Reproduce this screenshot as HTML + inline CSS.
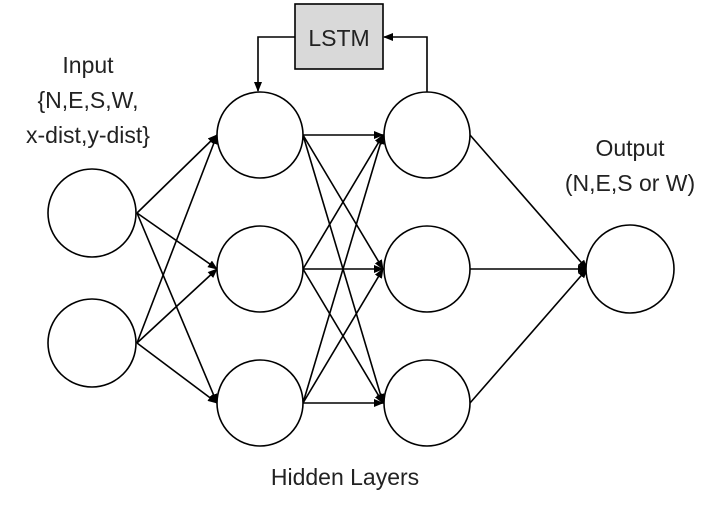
<!DOCTYPE html>
<html><head><style>
html,body{margin:0;padding:0;background:#fff;}
svg{display:block;}
text{font-family:"Liberation Sans",sans-serif;fill:#222;}
</style></head><body>
<svg width="714" height="513" viewBox="0 0 714 513" xmlns="http://www.w3.org/2000/svg">
<defs>
<marker id="a" markerWidth="10" markerHeight="8" refX="9" refY="4" orient="auto" markerUnits="userSpaceOnUse">
<path d="M0,0 L10,4 L0,8 z" fill="#000"/>
</marker>
</defs>
<g stroke="#000" stroke-width="1.6" fill="none">
<!-- input to hidden1 -->
<line x1="137" y1="213" x2="217" y2="135" marker-end="url(#a)"/>
<line x1="137" y1="213" x2="217" y2="269" marker-end="url(#a)"/>
<line x1="137" y1="213" x2="217" y2="403" marker-end="url(#a)"/>
<line x1="137" y1="343" x2="217" y2="135" marker-end="url(#a)"/>
<line x1="137" y1="343" x2="217" y2="269" marker-end="url(#a)"/>
<line x1="137" y1="343" x2="217" y2="403" marker-end="url(#a)"/>
<!-- hidden1 to hidden2 -->
<line x1="303" y1="135" x2="383" y2="135" marker-end="url(#a)"/>
<line x1="303" y1="135" x2="383" y2="269" marker-end="url(#a)"/>
<line x1="303" y1="135" x2="383" y2="403" marker-end="url(#a)"/>
<line x1="303" y1="269" x2="383" y2="135" marker-end="url(#a)"/>
<line x1="303" y1="269" x2="383" y2="269" marker-end="url(#a)"/>
<line x1="303" y1="269" x2="383" y2="403" marker-end="url(#a)"/>
<line x1="303" y1="403" x2="383" y2="135" marker-end="url(#a)"/>
<line x1="303" y1="403" x2="383" y2="269" marker-end="url(#a)"/>
<line x1="303" y1="403" x2="383" y2="403" marker-end="url(#a)"/>
<!-- hidden2 to output -->
<line x1="470" y1="135" x2="587" y2="269" marker-end="url(#a)"/>
<line x1="470" y1="269" x2="587" y2="269" marker-end="url(#a)"/>
<line x1="470" y1="403" x2="587" y2="269" marker-end="url(#a)"/>
<!-- LSTM loop -->
<polyline points="295,37 258,37 258,91" marker-end="url(#a)"/>
<polyline points="427,92 427,37 384,37" marker-end="url(#a)"/>
</g>
<rect x="295" y="4" width="88" height="65" fill="#d9d9d9" stroke="#000" stroke-width="1.6"/>
<text x="339" y="46" font-size="23" text-anchor="middle">LSTM</text>
<g fill="#fff" stroke="#000" stroke-width="1.6">
<circle cx="92" cy="213" r="44"/>
<circle cx="92" cy="343" r="44"/>
<circle cx="260" cy="135" r="43"/>
<circle cx="260" cy="269" r="43"/>
<circle cx="260" cy="403" r="43"/>
<circle cx="427" cy="135" r="43"/>
<circle cx="427" cy="269" r="43"/>
<circle cx="427" cy="403" r="43"/>
<circle cx="630" cy="269" r="44"/>
</g>
<g font-size="23" text-anchor="middle">
<text x="88" y="73">Input</text>
<text x="88" y="108">{N,E,S,W,</text>
<text x="88" y="143">x-dist,y-dist}</text>
<text x="630" y="156">Output</text>
<text x="630" y="191">(N,E,S or W)</text>
<text x="345" y="485">Hidden Layers</text>
</g>
</svg>
</body></html>
